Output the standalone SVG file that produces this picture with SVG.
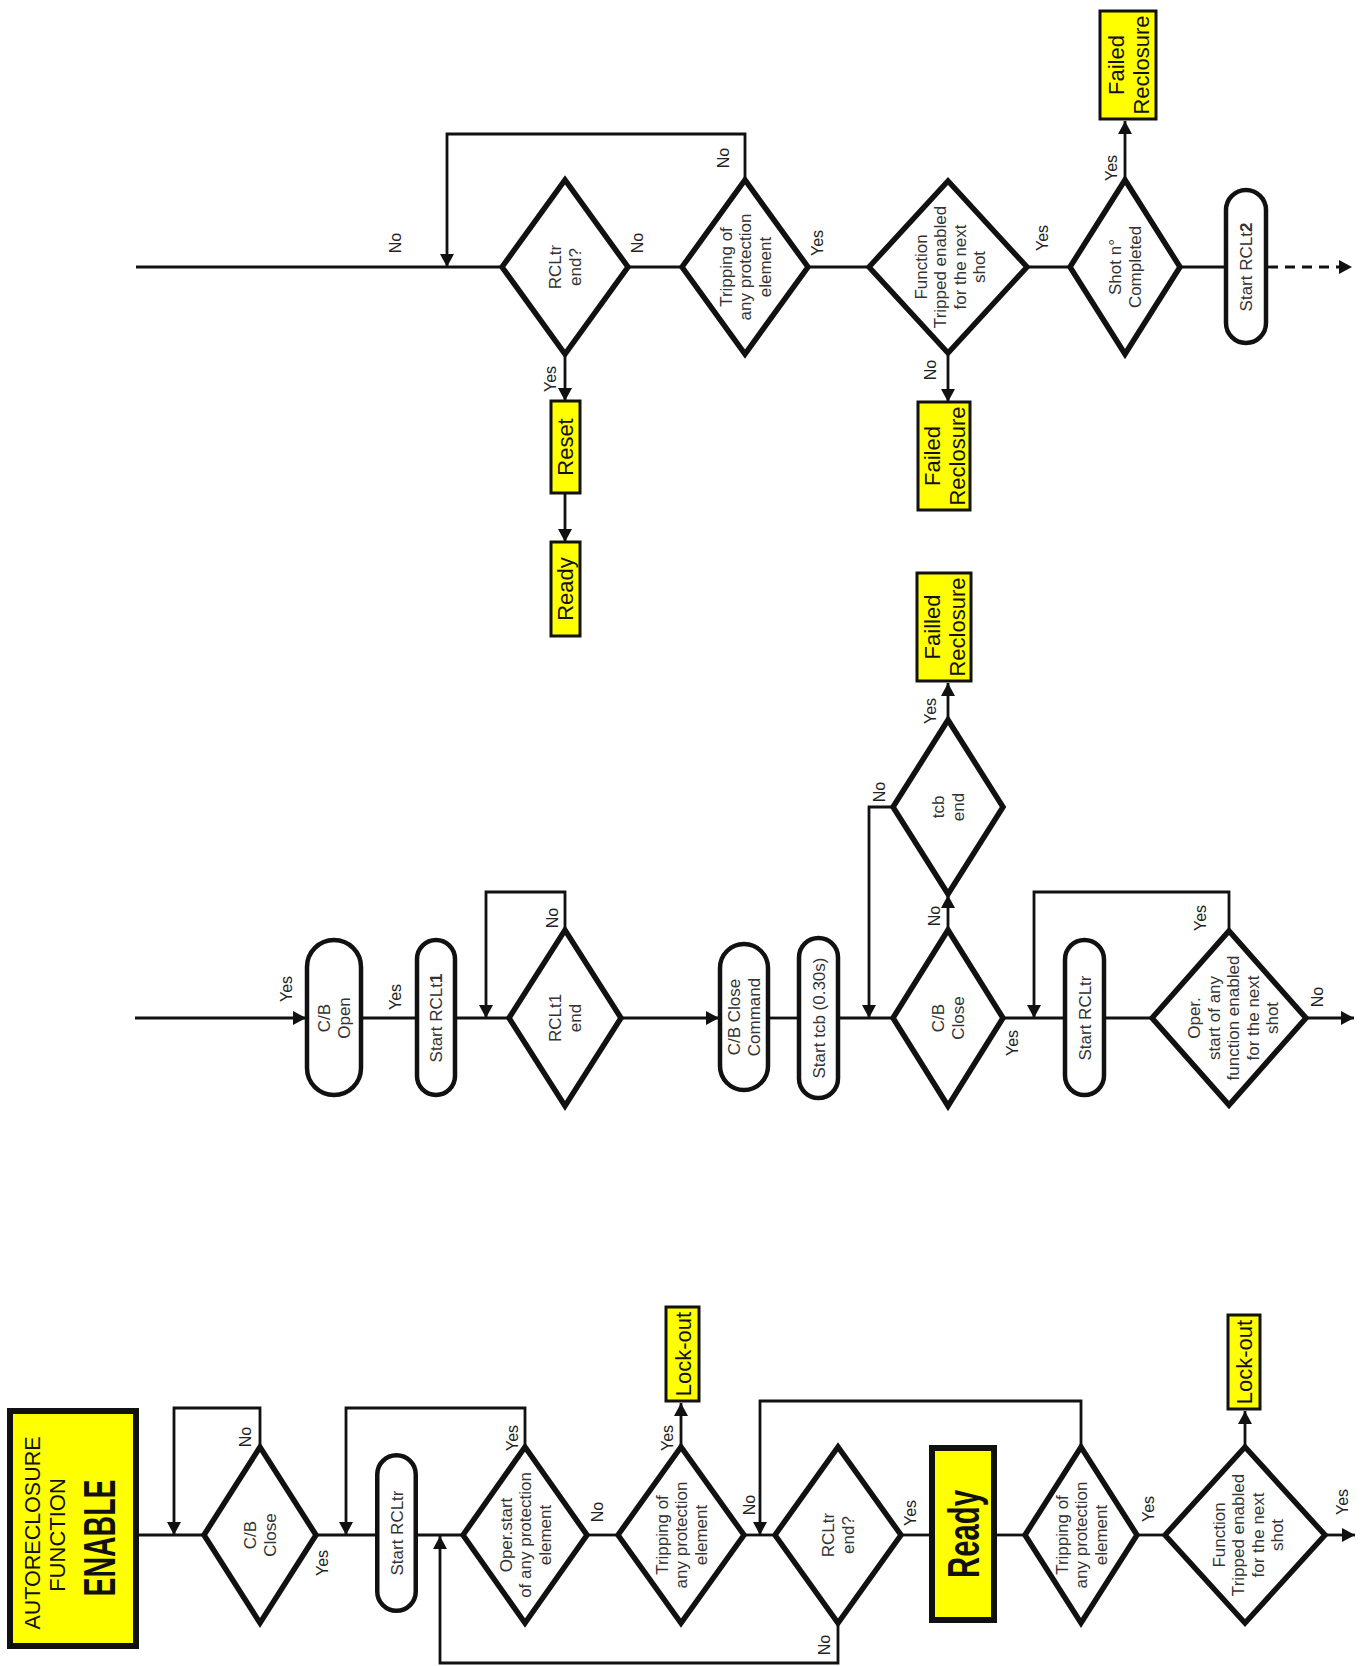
<svg xmlns="http://www.w3.org/2000/svg" width="1364" height="1666" viewBox="0 0 1364 1666">
<defs>
<marker id="ah" markerWidth="14" markerHeight="14" refX="13" refY="7" orient="auto" markerUnits="userSpaceOnUse"><path d="M0,0 L13,7 L0,14 z" fill="#111"/></marker>
<style>
.d{fill:#fff;stroke:#111;stroke-width:5.5;stroke-linejoin:miter}
.p{fill:#fff;stroke:#111;stroke-width:4.5}
.y{fill:#ffff00;stroke:#111;stroke-width:3}
.yt{fill:#ffff00;stroke:#111;stroke-width:6}
.c{fill:none;stroke:#111;stroke-width:2.8}
.ca{fill:none;stroke:#111;stroke-width:2.8;marker-end:url(#ah)}
.t{font-family:'Liberation Sans',Arial,sans-serif;font-size:17px;fill:#333;text-anchor:middle}
.l{font-family:'Liberation Sans',Arial,sans-serif;font-size:16px;fill:#222;text-anchor:middle}
.b{font-family:'Liberation Sans',Arial,sans-serif;font-size:22px;fill:#111;text-anchor:middle}
.bb{font-family:'Liberation Sans',Arial,sans-serif;font-weight:bold;fill:#111;text-anchor:middle}
</style>
</defs>
<rect width="1364" height="1666" fill="#fff"/>

<g id="connectors">
<!-- bottom row -->
<path class="c" d="M137,1535 H205"/>
<path class="ca" d="M260,1447 V1408 H174 V1535"/>
<path class="c" d="M316,1535 H378"/>
<path class="c" d="M418,1535 H463"/>
<path class="ca" d="M525,1447 V1408 H346 V1535"/>
<path class="c" d="M587,1535 H618"/>
<path class="ca" d="M681,1447 V1403"/>
<path class="c" d="M744,1535 H775"/>
<path class="ca" d="M1081,1447 V1401 H760 V1535"/>
<path class="ca" d="M838,1623 V1663 H440 V1536"/>
<path class="c" d="M901,1535 H932"/>
<path class="c" d="M996,1535 H1025"/>
<path class="c" d="M1137,1535 H1165"/>
<path class="ca" d="M1245,1447 V1411"/>
<path class="ca" d="M1325,1535 H1355"/>
<!-- middle row -->
<path class="ca" d="M135,1018 H306"/>
<path class="c" d="M363,1018 H416"/>
<path class="c" d="M457,1018 H509"/>
<path class="ca" d="M565,930 V892 H486 V1018"/>
<path class="ca" d="M621,1018 H719"/>
<path class="c" d="M769,1018 H798"/>
<path class="c" d="M839,1018 H893"/>
<path class="ca" d="M893,807 H869 V1018"/>
<path class="ca" d="M948,930 V895"/>
<path class="ca" d="M948,720 V683"/>
<path class="c" d="M1003,1018 H1065"/>
<path class="ca" d="M1229,931 V892 H1034 V1018"/>
<path class="c" d="M1105,1018 H1152"/>
<path class="ca" d="M1306,1018 H1354"/>
<!-- top row -->
<path class="c" d="M136,267 H502"/>
<path class="ca" d="M745,180 V134 H447 V267"/>
<path class="c" d="M628,267 H682"/>
<path class="c" d="M808,267 H869"/>
<path class="c" d="M1027,267 H1070"/>
<path class="ca" d="M1125,180 V121"/>
<path class="c" d="M1180,267 H1226"/>
<path class="ca" d="M1268,267 H1352" stroke-dasharray="10 7" stroke-width="3"/>
<path class="ca" d="M565,354 V401"/>
<path class="ca" d="M565,494 V542"/>
<path class="ca" d="M948,353 V402"/>
</g>

<g id="labels">
<text class="l" transform="translate(251,1437) rotate(-90)">No</text>
<text class="l" transform="translate(328,1563) rotate(-90)">Yes</text>
<text class="l" transform="translate(518,1438) rotate(-90)">Yes</text>
<text class="l" transform="translate(603,1512) rotate(-90)">No</text>
<text class="l" transform="translate(673,1438) rotate(-90)">Yes</text>
<text class="l" transform="translate(755,1505) rotate(-90)">No</text>
<text class="l" transform="translate(830,1645) rotate(-90)">No</text>
<text class="l" transform="translate(916,1513) rotate(-90)">Yes</text>
<text class="l" transform="translate(1154,1509) rotate(-90)">Yes</text>
<text class="l" transform="translate(1348,1502) rotate(-90)">Yes</text>

<text class="l" transform="translate(292,989) rotate(-90)">Yes</text>
<text class="l" transform="translate(401,997) rotate(-90)">Yes</text>
<text class="l" transform="translate(558,918) rotate(-90)">No</text>
<text class="l" transform="translate(940,916) rotate(-90)">No</text>
<text class="l" transform="translate(885,792) rotate(-90)">No</text>
<text class="l" transform="translate(936,711) rotate(-90)">Yes</text>
<text class="l" transform="translate(1018,1043) rotate(-90)">Yes</text>
<text class="l" transform="translate(1206,918) rotate(-90)">Yes</text>
<text class="l" transform="translate(1323,997) rotate(-90)">No</text>

<text class="l" transform="translate(401,243) rotate(-90)">No</text>
<text class="l" transform="translate(643,243) rotate(-90)">No</text>
<text class="l" transform="translate(729,158) rotate(-90)">No</text>
<text class="l" transform="translate(823,243) rotate(-90)">Yes</text>
<text class="l" transform="translate(1048,238) rotate(-90)">Yes</text>
<text class="l" transform="translate(1117,168) rotate(-90)">Yes</text>
<text class="l" transform="translate(556,379) rotate(-90)">Yes</text>
<text class="l" transform="translate(936,370) rotate(-90)">No</text>
</g>

<!-- bottom row nodes -->
<g id="enable">
<rect class="yt" x="10" y="1411" width="126" height="235"/>
<text class="b" transform="translate(40,1533) rotate(-90)" font-size="23" textLength="193" lengthAdjust="spacingAndGlyphs" fill="#222">AUTORECLOSURE</text>
<text class="b" transform="translate(65,1535) rotate(-90)" font-size="21" fill="#222">FUNCTION</text>
<text class="bb" transform="translate(115,1538) rotate(-90)" font-size="44" textLength="117" lengthAdjust="spacingAndGlyphs">ENABLE</text>
</g>
<g id="b_cbclose">
<polygon class="d" points="204,1535 260,1447 316,1535 260,1623"/>
<text class="t" transform="translate(260,1535) rotate(-90)"><tspan x="0" y="-3.75">C/B</tspan><tspan x="0" y="15.75">Close</tspan></text>
</g>
<g id="b_startrcltr">
<rect class="p" x="377.25" y="1455.25" width="38.5" height="155.5" rx="19.25"/>
<text class="t" transform="translate(396.5,1533) rotate(-90)"><tspan x="0" y="6">Start RCLtr</tspan></text>
</g>
<g id="b_operstart">
<polygon class="d" points="463,1535 525,1447 587,1535 525,1623"/>
<text class="t" transform="translate(525,1535) rotate(-90)"><tspan x="0" y="-13.5">Oper.start</tspan><tspan x="0" y="6">of any protection</tspan><tspan x="0" y="25.5">element</tspan></text>
</g>
<g id="b_trip1">
<polygon class="d" points="618,1535 681,1447 744,1535 681,1623"/>
<text class="t" transform="translate(681,1535) rotate(-90)"><tspan x="0" y="-13.5">Tripping of</tspan><tspan x="0" y="6">any protection</tspan><tspan x="0" y="25.5">element</tspan></text>
</g>
<g id="b_lockout1">
<rect class="y" x="666" y="1307" width="33" height="94"/>
<text class="b" transform="translate(691,1354) rotate(-90)">Lock-out</text>
</g>
<g id="b_rcltrend">
<polygon class="d" points="775,1535 838,1447 901,1535 838,1623"/>
<text class="t" transform="translate(838,1535) rotate(-90)"><tspan x="0" y="-3.75">RCLtr</tspan><tspan x="0" y="15.75">end?</tspan></text>
</g>
<g id="b_ready">
<rect class="yt" x="932" y="1448" width="62" height="172"/>
<text class="bb" transform="translate(979,1534) rotate(-90)" font-size="44" textLength="88" lengthAdjust="spacingAndGlyphs">Ready</text>
</g>
<g id="b_trip2">
<polygon class="d" points="1025,1535 1081,1447 1137,1535 1081,1623"/>
<text class="t" transform="translate(1081,1535) rotate(-90)"><tspan x="0" y="-13.5">Tripping of</tspan><tspan x="0" y="6">any protection</tspan><tspan x="0" y="25.5">element</tspan></text>
</g>
<g id="b_functrip">
<polygon class="d" points="1165,1535 1245,1447 1325,1535 1245,1623"/>
<text class="t" transform="translate(1248,1535) rotate(-90)"><tspan x="0" y="-23.25">Function</tspan><tspan x="0" y="-3.75">Tripped enabled</tspan><tspan x="0" y="15.75">for the next</tspan><tspan x="0" y="35.25">shot</tspan></text>
</g>
<g id="b_lockout2">
<rect class="y" x="1228" y="1315" width="32" height="94"/>
<text class="b" transform="translate(1252,1362) rotate(-90)">Lock-out</text>
</g>

<!-- middle row nodes -->
<g id="m_cbopen">
<rect class="p" x="307" y="940" width="54" height="155" rx="27"/>
<text class="t" transform="translate(334,1018) rotate(-90)"><tspan x="0" y="-3.75">C/B</tspan><tspan x="0" y="15.75">Open</tspan></text>
</g>
<g id="m_startrclt1">
<rect class="p" x="417" y="940" width="38" height="155" rx="19"/>
<text class="t" transform="translate(436,1018) rotate(-90)"><tspan x="0" y="6">Start RCLt<tspan font-weight="bold">1</tspan></tspan></text>
</g>
<g id="m_rclt1end">
<polygon class="d" points="509,1018 565,930 621,1018 565,1106"/>
<text class="t" transform="translate(565,1018) rotate(-90)"><tspan x="0" y="-3.75">RCLt1</tspan><tspan x="0" y="15.75">end</tspan></text>
</g>
<g id="m_cbclosecmd">
<rect class="p" x="720" y="944" width="48" height="146" rx="24"/>
<text class="t" transform="translate(744,1017) rotate(-90)"><tspan x="0" y="-3.75">C/B Close</tspan><tspan x="0" y="15.75">Command</tspan></text>
</g>
<g id="m_starttcb">
<rect class="p" x="799" y="938" width="39" height="160" rx="19.5"/>
<text class="t" transform="translate(818.5,1018) rotate(-90)"><tspan x="0" y="6">Start tcb (0.30s)</tspan></text>
</g>
<g id="m_cbclose">
<polygon class="d" points="893,1018 948,930 1003,1018 948,1106"/>
<text class="t" transform="translate(948,1018) rotate(-90)"><tspan x="0" y="-3.75">C/B</tspan><tspan x="0" y="15.75">Close</tspan></text>
</g>
<g id="m_tcbend">
<polygon class="d" points="893,807 948,720 1003,807 948,894"/>
<text class="t" transform="translate(948,807) rotate(-90)"><tspan x="0" y="-3.75">tcb</tspan><tspan x="0" y="15.75">end</tspan></text>
</g>
<g id="m_failled">
<rect class="y" x="917" y="573" width="54" height="108"/>
<text class="b" transform="translate(944,627) rotate(-90)"><tspan x="0" y="-4">Failled</tspan><tspan x="0" y="20.5">Reclosure</tspan></text>
</g>
<g id="m_startrcltr">
<rect class="p" x="1065" y="940" width="39" height="155" rx="19.5"/>
<text class="t" transform="translate(1084.5,1018) rotate(-90)"><tspan x="0" y="6">Start RCLtr</tspan></text>
</g>
<g id="m_operstart">
<polygon class="d" points="1152,1018 1229,931 1306,1018 1229,1105"/>
<text class="t" transform="translate(1233,1018) rotate(-90)"><tspan x="0" y="-33">Oper.</tspan><tspan x="0" y="-13.5">start of any</tspan><tspan x="0" y="6">function enabled</tspan><tspan x="0" y="25.5">for the next</tspan><tspan x="0" y="45">shot</tspan></text>
</g>

<!-- top row nodes -->
<g id="t_rcltrend">
<polygon class="d" points="502,267 565,180 628,267 565,354"/>
<text class="t" transform="translate(565,267) rotate(-90)"><tspan x="0" y="-3.75">RCLtr</tspan><tspan x="0" y="15.75">end?</tspan></text>
</g>
<g id="t_trip">
<polygon class="d" points="682,267 745,180 808,267 745,354"/>
<text class="t" transform="translate(745,267) rotate(-90)"><tspan x="0" y="-13.5">Tripping of</tspan><tspan x="0" y="6">any protection</tspan><tspan x="0" y="25.5">element</tspan></text>
</g>
<g id="t_functrip">
<polygon class="d" points="869,267 948,181 1027,267 948,353"/>
<text class="t" transform="translate(950,267) rotate(-90)"><tspan x="0" y="-23.25">Function</tspan><tspan x="0" y="-3.75">Tripped enabled</tspan><tspan x="0" y="15.75">for the next</tspan><tspan x="0" y="35.25">shot</tspan></text>
</g>
<g id="t_shot">
<polygon class="d" points="1070,267 1125,180 1180,267 1125,354"/>
<text class="t" transform="translate(1125,267) rotate(-90)"><tspan x="0" y="-3.75">Shot n°</tspan><tspan x="0" y="15.75">Completed</tspan></text>
</g>
<g id="t_failedtop">
<rect class="y" x="1100" y="11" width="56" height="108"/>
<text class="b" transform="translate(1128,65) rotate(-90)"><tspan x="0" y="-4">Failed</tspan><tspan x="0" y="20.5">Reclosure</tspan></text>
</g>
<g id="t_startrclt2">
<rect class="p" x="1226" y="190" width="40" height="153" rx="20"/>
<text class="t" transform="translate(1246,267) rotate(-90)"><tspan x="0" y="6">Start RCLt<tspan font-weight="bold">2</tspan></tspan></text>
</g>
<g id="t_reset">
<rect class="y" x="551" y="401" width="29" height="92"/>
<text class="b" transform="translate(573,447) rotate(-90)">Reset</text>
</g>
<g id="t_ready">
<rect class="y" x="551" y="542" width="29" height="94"/>
<text class="b" transform="translate(573,589) rotate(-90)">Ready</text>
</g>
<g id="t_failedbottom">
<rect class="y" x="918" y="402" width="52" height="108"/>
<text class="b" transform="translate(944,456) rotate(-90)"><tspan x="0" y="-4">Failed</tspan><tspan x="0" y="20.5">Reclosure</tspan></text>
</g>
</svg>
